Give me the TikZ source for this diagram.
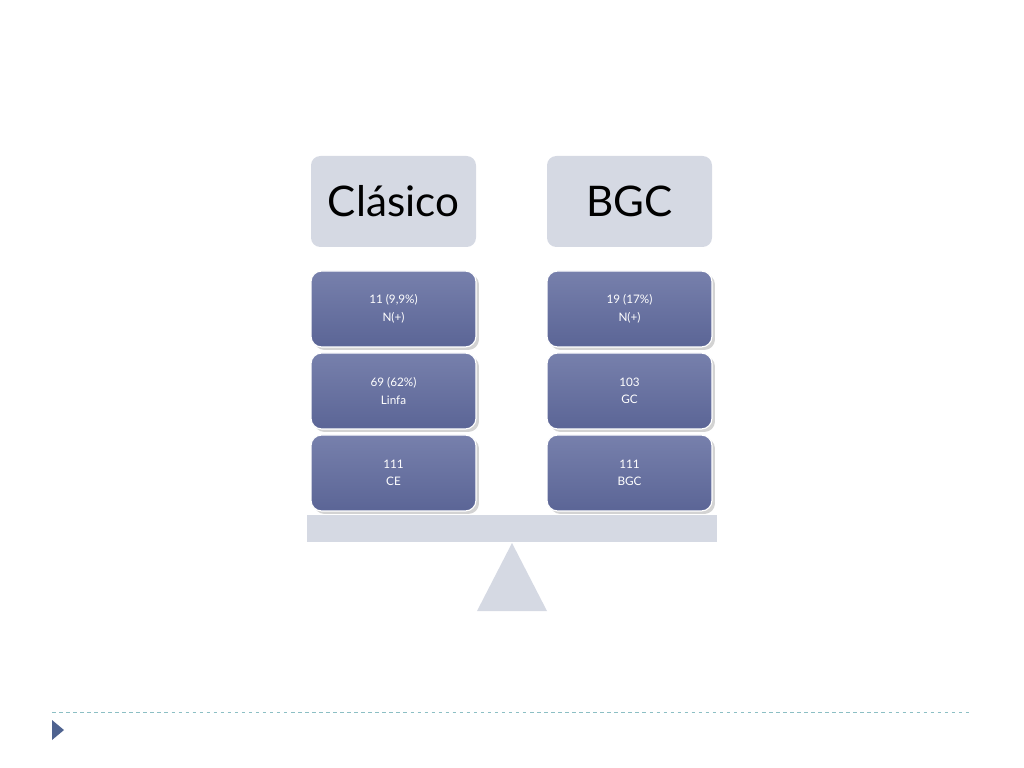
\documentclass[tikz,border=0pt]{standalone}
\usepackage{fontspec}
\setmainfont{Lato}
\usetikzlibrary{positioning,shadows}
\definecolor{headgray}{HTML}{D5D9E3}
\definecolor{boxblue}{HTML}{5B6596}
\definecolor{boxlight}{HTML}{7780AC}
\definecolor{dashteal}{HTML}{8CBFC4}
\definecolor{bulletblue}{HTML}{4F6390}
\tikzset{
  head/.style={fill=headgray, rounded corners=8pt, minimum width=165*0.03cm, minimum height=91*0.03cm, font=\fontsize{36}{40}\selectfont, inner sep=0pt},
  block/.style={top color=boxlight, bottom color=boxblue, draw=white, line width=1pt, rounded corners=9pt, minimum width=165*0.03cm, minimum height=76*0.03cm, text=white, font=\fontsize{10}{15}\selectfont, align=center, drop shadow={opacity=0.35}}
}
\begin{document}
\begin{tikzpicture}[x=0.03cm,y=-0.03cm]
\useasboundingbox (0,0) rectangle (1024,768);
% headers
\node[head] (clasico) at (393.5,201.5) {Clásico};
\node[head] (bgc) at (629.5,201.5) {BGC};
% stacked blocks
\node[block] (c1) at (393.5,309) {11 (9,9\%)\\N(+)};
\node[block] (c2) at (393.5,391) {69 (62\%)\\Linfa};
\node[block] (c3) at (393.5,473) {111\\CE};
\node[block] (b1) at (629.5,309) {19 (17\%)\\N(+)};
\node[block] (b2) at (629.5,391) {103\\GC};
\node[block] (b3) at (629.5,473) {111\\BGC};
% balance
\fill[headgray] (307,515) rectangle (717,542);
\fill[headgray] (512,543) -- (547,611) -- (477,611) -- cycle;
% footer
\draw[dashteal, dashed, line width=0.8pt] (52,712) -- (972,712);
\fill[bulletblue] (52,720) -- (64,730) -- (52,740) -- cycle;
\end{tikzpicture}
\end{document}
